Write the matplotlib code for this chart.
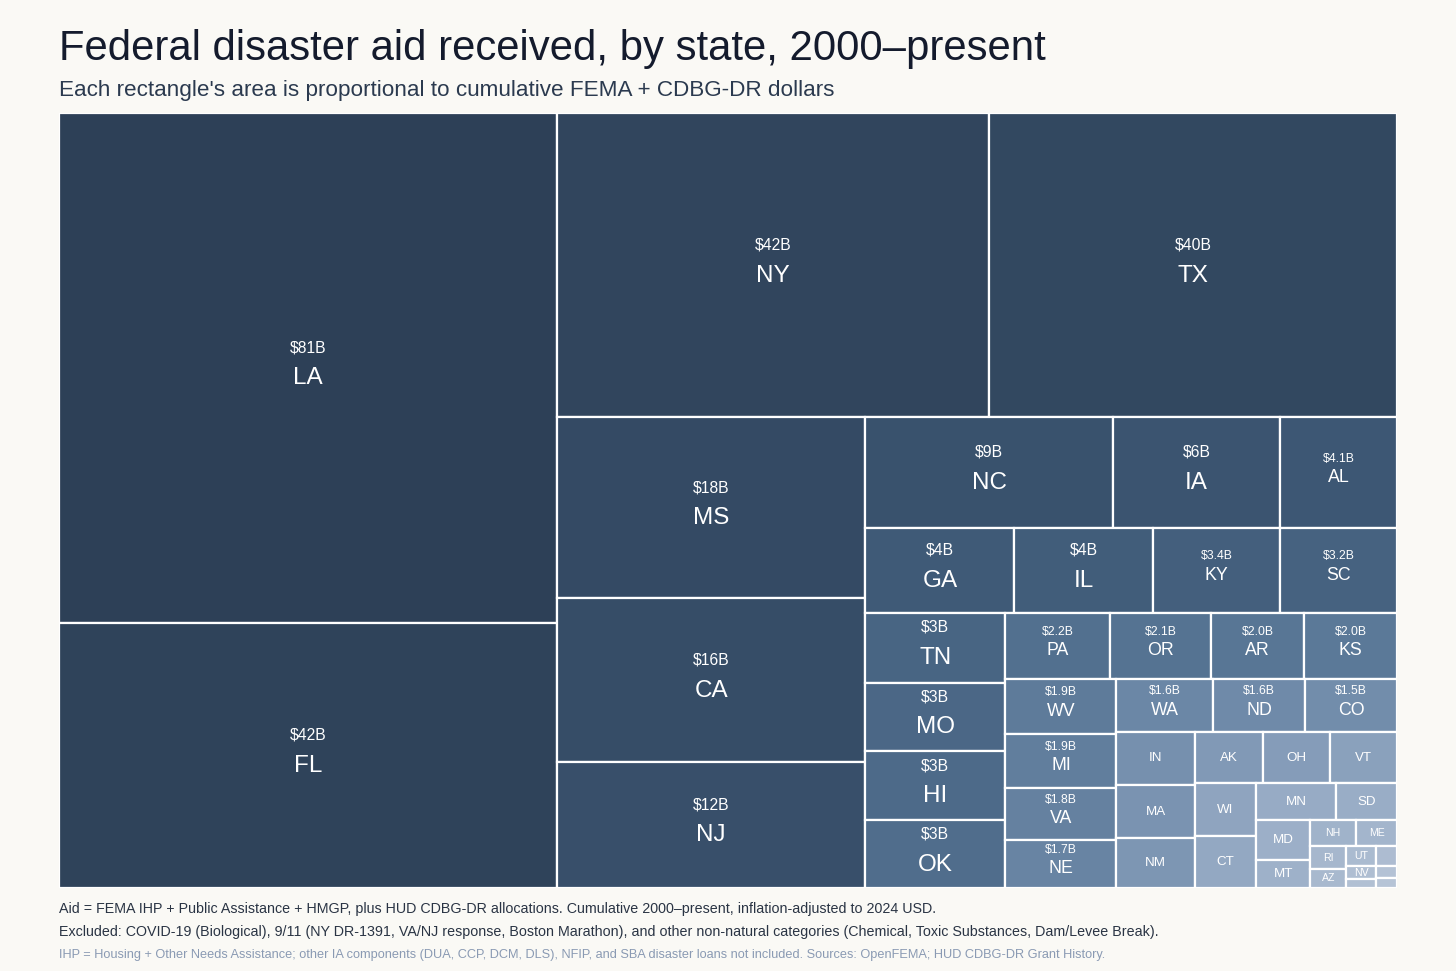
"""
Treemap des aides fédérales aux catastrophes reçues par État (FEMA + CDBG-DR),
cumul 2000–présent. La disposition « squarified » est calculée sur un carré
unité, puis étirée sur la zone du graphique.
"""
import matplotlib
matplotlib.use("Agg")
import matplotlib.pyplot as plt
from matplotlib.colors import LinearSegmentedColormap
from matplotlib.patches import Rectangle

# Données (milliards USD 2024), triées par ordre décroissant
STATES = ["LA", "FL", "NY", "TX", "MS", "CA", "NJ", "NC", "IA", "AL",
          "GA", "IL", "KY", "SC", "TN", "MO", "HI", "OK", "PA", "OR",
          "AR", "KS", "WV", "MI", "VA", "NE", "WA", "ND", "CO", "IN",
          "MA", "NM", "AK", "OH", "VT", "WI", "CT", "MN", "SD", "MD",
          "MT", "NH", "ME", "RI", "AZ", "UT", "ID", "NV", "WY", "DE", "DC"]
AID_BILLIONS = [81.0, 42.1, 42.0, 39.6, 17.8, 16.1, 12.4, 8.7, 5.9, 4.1,
                4.04, 3.77, 3.43, 3.17, 3.12, 3.08, 3.07, 3.03, 2.21, 2.14,
                1.97, 1.96, 1.94, 1.92, 1.84, 1.71, 1.62, 1.56, 1.54, 1.34,
                1.32, 1.25, 1.13, 1.11, 1.10, 1.03, 1.01, 0.94, 0.72, 0.69,
                0.48, 0.38, 0.34, 0.26, 0.22, 0.19, 0.13, 0.12, 0.085, 0.08, 0.065]

TITLE = "Federal disaster aid received, by state, 2000\u2013present"
SUBTITLE = "Each rectangle's area is proportional to cumulative FEMA + CDBG-DR dollars"
NOTES = [
    "Aid = FEMA IHP + Public Assistance + HMGP, plus HUD CDBG-DR allocations. "
    "Cumulative 2000\u2013present, inflation-adjusted to 2024 USD.",
    "Excluded: COVID-19 (Biological), 9/11 (NY DR-1391, VA/NJ response, Boston Marathon), "
    "and other non-natural categories (Chemical, Toxic Substances, Dam/Levee Break).",
    "IHP = Housing + Other Needs Assistance; other IA components (DUA, CCP, DCM, DLS), NFIP, "
    "and SBA disaster loans not included. Sources: OpenFEMA; HUD CDBG-DR Grant History.",
]

BG = "#faf9f5"
FONT = ["Liberation Sans", "DejaVu Sans"]

# Zone du treemap en pixels (figure 1456x971)
AX_LEFT, AX_RIGHT, AX_TOP, AX_BOTTOM = 59, 1397, 113, 888
FIG_W, FIG_H = 1456, 971


# --- algorithme squarified -------------------------------------------------
def layout(sizes, x, y, dx, dy):
    covered = sum(sizes)
    rects = []
    if dx >= dy:
        width = covered / dy
        cy = y
        for s in sizes:
            rects.append((x, cy, width, s / width))
            cy += s / width
    else:
        height = covered / dx
        cx = x
        for s in sizes:
            rects.append((cx, y, s / height, height))
            cx += s / height
    return rects


def leftover(sizes, x, y, dx, dy):
    covered = sum(sizes)
    if dx >= dy:
        width = covered / dy
        return x + width, y, dx - width, dy
    height = covered / dx
    return x, y + height, dx, dy - height


def worst_ratio(sizes, x, y, dx, dy):
    return max(max(w / h, h / w) for _, _, w, h in layout(sizes, x, y, dx, dy))


def squarify(sizes, x, y, dx, dy):
    if not sizes:
        return []
    if len(sizes) == 1:
        return layout(sizes, x, y, dx, dy)
    i = 1
    while i < len(sizes) and worst_ratio(sizes[:i], x, y, dx, dy) >= worst_ratio(sizes[:i + 1], x, y, dx, dy):
        i += 1
    current, remaining = sizes[:i], sizes[i:]
    lx, ly, ldx, ldy = leftover(current, x, y, dx, dy)
    return layout(current, x, y, dx, dy) + squarify(remaining, lx, ly, ldx, ldy)


def draw_label(ax, state, value, rect):
    x, y, w, h = rect
    w_px = w * (AX_RIGHT - AX_LEFT)
    h_px = h * (AX_BOTTOM - AX_TOP)
    cx, cy = x + w / 2, y + h / 2
    kw = dict(xycoords="data", textcoords="offset points", ha="center", va="center",
              color="white", family=FONT)
    if w_px >= 135 and h_px >= 60:
        ax.annotate(f"${value:.0f}B", (cx, cy), xytext=(0, 14.5), fontsize=11.3, **kw)
        ax.annotate(state, (cx, cy), xytext=(0, -7.5), fontsize=17.5, **kw)
    elif w_px >= 80 and h_px >= 45:
        ax.annotate(f"${value:.1f}B", (cx, cy), xytext=(0, 10), fontsize=8.8, **kw)
        ax.annotate(state, (cx, cy), xytext=(0, -3.5), fontsize=12.8, **kw)
    elif w_px >= 25 and h_px >= 11:
        size = 9.6 if (w_px >= 50 and h_px >= 25) else 7.6
        ax.annotate(state, (cx, cy), xytext=(0, 0), fontsize=size, **kw)


def main():
    fig = plt.figure(figsize=(FIG_W / 100, FIG_H / 100), dpi=100, facecolor=BG)
    ax = fig.add_axes([AX_LEFT / FIG_W, 1 - AX_BOTTOM / FIG_H,
                       (AX_RIGHT - AX_LEFT) / FIG_W, (AX_BOTTOM - AX_TOP) / FIG_H])
    ax.set_xlim(0, 1)
    ax.set_ylim(1, 0)
    ax.axis("off")

    total = sum(AID_BILLIONS)
    sizes = [v / total for v in AID_BILLIONS]
    rects = squarify(sizes, 0.0, 0.0, 1.0, 1.0)

    cmap = LinearSegmentedColormap.from_list("aid", [
        (0.0, "#2d4057"), (0.2, "#3f5a77"), (0.36, "#52708f"), (0.52, "#6b87a6"),
        (0.64, "#8199b6"), (0.74, "#97abc5"), (1.0, "#b6c4d6")])
    n = len(STATES)
    for rank, (state, value, rect) in enumerate(zip(STATES, AID_BILLIONS, rects)):
        x, y, w, h = rect
        ax.add_patch(Rectangle((x, y), w, h, facecolor=cmap(rank / (n - 1)),
                               edgecolor="white", linewidth=1.6))
        draw_label(ax, state, value, rect)

    # Titres et notes (tailles ajustées sur la largeur des textes de référence)
    fig.text(59 / FIG_W, 1 - 60 / FIG_H, TITLE, fontsize=30.2, color="#141b2d",
             family=FONT, va="baseline")
    fig.text(59 / FIG_W, 1 - 96 / FIG_H, SUBTITLE, fontsize=16.2, color="#2b3a4f",
             family=FONT, va="baseline")
    note_colors = ["#2a3444", "#2a3444", "#8a9ab3"]
    note_sizes = [10.25, 10.28, 9.17]
    for i, (note, col, fs) in enumerate(zip(NOTES, note_colors, note_sizes)):
        fig.text(59 / FIG_W, 1 - (913 + 22.5 * i) / FIG_H, note, fontsize=fs,
                 color=col, family=FONT, va="baseline")

    fig.savefig("out.png", dpi=100, facecolor=BG)


if __name__ == "__main__":
    main()
